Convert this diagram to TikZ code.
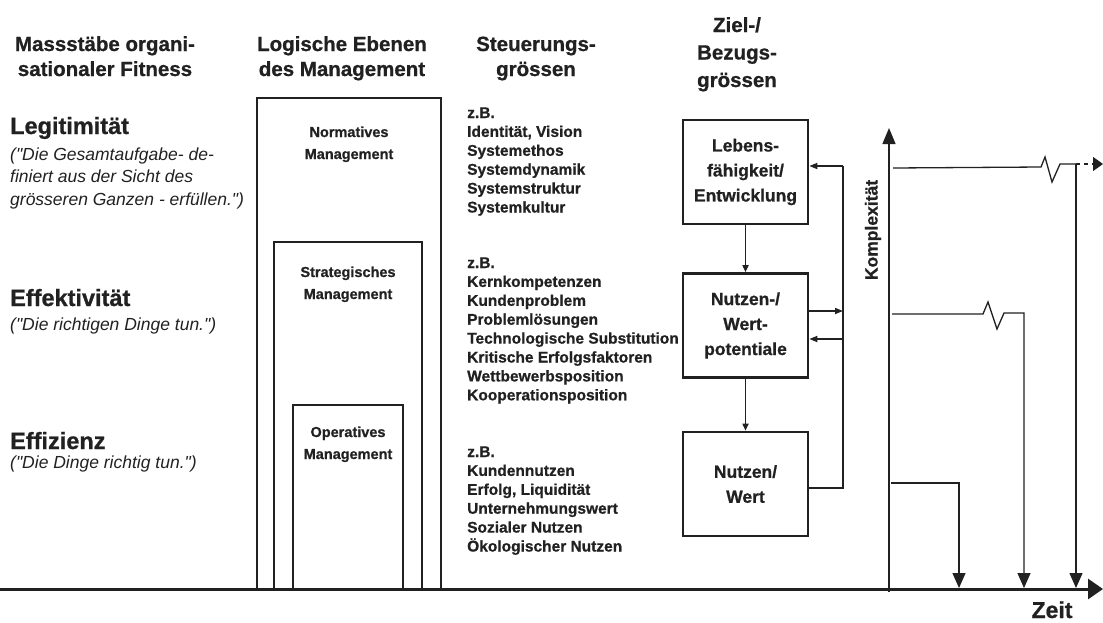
\documentclass[tikz,border=0pt]{standalone}
\usepackage{fontspec}
\setmainfont{Liberation Sans}[Ligatures=TeXOff, BoldFeatures={FakeBold=0.8}]
\usetikzlibrary{arrows.meta}
\definecolor{ink}{gray}{0.13}
\newcommand{\fsz}[1]{\fontsize{#1pt}{#1pt}\selectfont}
\newcommand{\LBlock}[2]{\vtop{\baselineskip=#1\relax\lineskiplimit=-\maxdimen\relax\halign{##\hfil\cr#2\crcr}}}
\newcommand{\CBlock}[2]{\vtop{\baselineskip=#1\relax\lineskiplimit=-\maxdimen\relax\halign{\hfil##\hfil\cr#2\crcr}}}
\begin{document}
\begin{tikzpicture}[x=1pt,y=-1pt,
  every node/.style={inner sep=0pt, text=ink},
  head/.style={font=\bfseries\fsz{20.5}, anchor=base},
  crit/.style={font=\bfseries\fsz{23.5}, anchor=base west},
  quote/.style={font=\itshape\fsz{17.5}, anchor=base west},
  mgline/.style={draw=ink, line width=2.6pt, line join=miter},
  mgtext/.style={font=\bfseries\fsz{14.5}, anchor=base},
  steer/.style={font=\bfseries\fsz{15.5}, anchor=base west},
  zbox/.style={draw=ink, line width=2.6pt, minimum width=125pt, minimum height=104pt, align=center, font=\bfseries\fontsize{17.5pt}{25pt}\selectfont},
  fbline/.style={draw=ink, line width=1.6pt},
  fbtip/.style={-{Triangle[length=8pt,width=6pt]}},
  thin/.style={draw=ink, line width=1.3pt, line join=miter},
  downtip/.style={-{Triangle[length=15pt,width=13pt]}},
]
\useasboundingbox (0,0) rectangle (1103,622);

% headings
\node[head] (h1) at (105,51) {\CBlock{25pt}{Massstäbe organi-\cr sationaler Fitness}};
\node[head] (h2) at (342,51) {\CBlock{25pt}{Logische Ebenen\cr des Management}};
\node[head] (h3) at (536,51) {\CBlock{25pt}{Steuerungs-\cr grössen}};
\node[head] (h4) at (737,32) {\CBlock{27.5pt}{Ziel-/\cr Bezugs-\cr grössen}};

% left column
\node[crit] (legi) at (10,134) {Legitimität};
\node[quote] (legiq) at (10,160) {\LBlock{22.5pt}{("Die Gesamtaufgabe- de-\cr finiert aus der Sicht des\cr grösseren Ganzen - erfüllen.")}};
\node[crit] (effk) at (10,306) {Effektivität};
\node[quote] (effkq) at (10,330) {("Die richtigen Dinge tun.")};
\node[crit] (effz) at (10,449) {Effizienz};
\node[quote] (effzq) at (10,468) {("Die Dinge richtig tun.")};

% management boxes
\draw[mgline] (257,589) -- (257,98) -- (441,98) -- (441,589);
\draw[mgline] (274,589) -- (274,242) -- (422,242) -- (422,589);
\draw[mgline] (293,589) -- (293,405) -- (403,405) -- (403,589);
\node[mgtext] (nm) at (349,137) {\CBlock{22pt}{Normatives\cr Management}};
\node[mgtext] (sm) at (348,277) {\CBlock{22pt}{Strategisches\cr Management}};
\node[mgtext] (om) at (348,437) {\CBlock{22pt}{Operatives\cr Management}};

% Steuerungsgroessen
\node[steer] (s1) at (467,118) {\LBlock{18.9pt}{z.B.\cr Identität, Vision\cr Systemethos\cr Systemdynamik\cr Systemstruktur\cr Systemkultur}};
\node[steer] (s2) at (467,268) {\LBlock{18.9pt}{z.B.\cr Kernkompetenzen\cr Kundenproblem\cr Problemlösungen\cr Technologische Substitution\cr Kritische Erfolgsfaktoren\cr Wettbewerbsposition\cr Kooperationsposition}};
\node[steer] (s3) at (467,457) {\LBlock{18.9pt}{z.B.\cr Kundennutzen\cr Erfolg, Liquidität\cr Unternehmungswert\cr Sozialer Nutzen\cr Ökologischer Nutzen}};

% Ziel boxes
\node[zbox] (leb) at (745.5,172) {Lebens-\\fähigkeit/\\Entwicklung};
\node[zbox] (nwp) at (745.5,325.5) {Nutzen-/\\Wert-\\potentiale};
\node[zbox] (nw) at (745.5,484) {Nutzen/\\Wert};
\draw[fbline, -{Triangle[length=7pt,width=6pt]}] (leb.south) -- (nwp.north);
\draw[fbline, -{Triangle[length=7pt,width=6pt]}] (nwp.south) -- (nw.north);

% feedback loop
\coordinate (fbtop) at (843,166);
\coordinate (fbm1) at (843,311);
\coordinate (fbm2) at (843,339);
\coordinate (fbbot) at (843,488);
\draw[fbline, fbtip] (fbtop) -- (fbtop -| leb.east);
\draw[fbline] (fbbot -| nw.east) -- (fbbot) -- (fbtop);
\draw[fbline, fbtip] (fbm1 -| nwp.east) -- (fbm1);
\draw[fbline, fbtip] (fbm2) -- (fbm2 -| nwp.east);

% chart
\coordinate (vbot) at (889,592);
\coordinate (vtop) at (889,128);
\draw[thin, -{Triangle[length=16pt,width=13pt]}] (vbot) -- (vtop);
\node[font=\bfseries\fsz{17.5}, rotate=90] (kx) at (873,230) {Komplexität};

\coordinate (t0) at (893,168);
\coordinate (t1) at (1041,167);
\coordinate (t2) at (1045,157);
\coordinate (t3) at (1052,182);
\coordinate (t4) at (1060,164);
\coordinate (t5) at (1076,164);
\coordinate (t6) at (1103,164);
\coordinate (t7) at (1076,588);
\draw[thin] (t0) -- (t1) -- (t2) -- (t3) -- (t4) -- (t5);
\draw[thin, dash pattern=on 4pt off 4pt, -{Triangle[length=10pt,width=14pt]}] (t5) -- (t6);
\draw[thin, downtip] (t5) -- (t7);

\coordinate (m0) at (892,314);
\coordinate (m1) at (983,314);
\coordinate (m2) at (988,302);
\coordinate (m3) at (997,329);
\coordinate (m4) at (1004,313);
\coordinate (m5) at (1024,313);
\coordinate (m6) at (1024,588);
\draw[thin, downtip] (m0) -- (m1) -- (m2) -- (m3) -- (m4) -- (m5) -- (m6);

\coordinate (b0) at (891,483);
\coordinate (b1) at (959,483);
\coordinate (b2) at (959,588);
\draw[thin, downtip] (b0) -- (b1) -- (b2);

% time axis
\coordinate (ax0) at (0,589);
\coordinate (ax1) at (1103,589);
\draw[draw=ink, line width=3pt, -{Triangle[length=15pt,width=20pt]}] (ax0) -- (ax1);
\node[font=\bfseries\fsz{23}, anchor=base] (zeit) at (1052,618) {Zeit};
\end{tikzpicture}
\end{document}
